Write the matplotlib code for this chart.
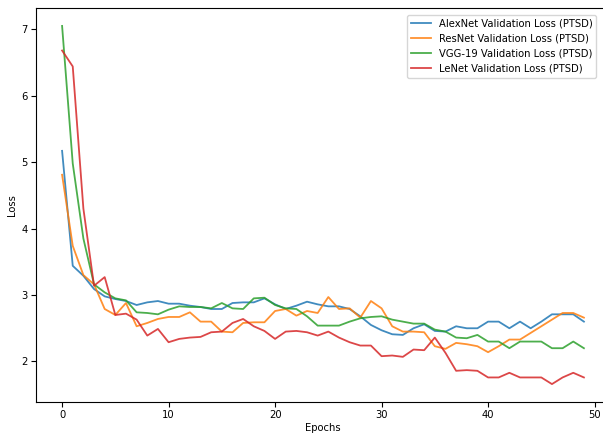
import numpy as np
import matplotlib
matplotlib.use('Agg')
import matplotlib.pyplot as plt

# Значения потерь на валидации
epochs = np.arange(50)

alexnet_loss = [5.17, 3.44, 3.29, 3.09, 2.98, 2.94, 2.91, 2.85, 2.89, 2.91,
                2.87, 2.87, 2.84, 2.82, 2.79, 2.79, 2.88, 2.89, 2.89, 2.95,
                2.86, 2.79, 2.84, 2.90, 2.86, 2.83, 2.83, 2.79, 2.68, 2.55,
                2.47, 2.41, 2.40, 2.50, 2.56, 2.46, 2.45, 2.53, 2.50, 2.50,
                2.60, 2.60, 2.50, 2.60, 2.50, 2.60, 2.71, 2.71, 2.71, 2.60]

resnet_loss = [4.81, 3.74, 3.30, 3.16, 2.79, 2.70, 2.88, 2.53, 2.58, 2.64,
               2.67, 2.67, 2.74, 2.60, 2.60, 2.45, 2.44, 2.58, 2.59, 2.59,
               2.76, 2.79, 2.69, 2.76, 2.73, 2.97, 2.79, 2.80, 2.66, 2.91,
               2.80, 2.53, 2.45, 2.45, 2.44, 2.23, 2.19, 2.28, 2.26, 2.23,
               2.14, 2.23, 2.33, 2.33, 2.43, 2.53, 2.63, 2.73, 2.73, 2.66]

vgg19_loss = [7.05, 4.98, 3.85, 3.16, 3.04, 2.95, 2.92, 2.74, 2.73, 2.71,
              2.78, 2.83, 2.82, 2.82, 2.80, 2.88, 2.80, 2.79, 2.95, 2.96,
              2.85, 2.80, 2.79, 2.68, 2.54, 2.54, 2.54, 2.60, 2.65, 2.67,
              2.68, 2.63, 2.60, 2.57, 2.57, 2.48, 2.45, 2.36, 2.35, 2.40,
              2.30, 2.30, 2.20, 2.30, 2.30, 2.30, 2.20, 2.20, 2.30, 2.20]

lenet_loss = [6.68, 6.44, 4.30, 3.14, 3.27, 2.70, 2.72, 2.63, 2.39, 2.49,
              2.29, 2.34, 2.36, 2.37, 2.44, 2.45, 2.58, 2.64, 2.53, 2.46,
              2.34, 2.45, 2.46, 2.44, 2.39, 2.45, 2.36, 2.29, 2.24, 2.24,
              2.08, 2.09, 2.07, 2.18, 2.17, 2.36, 2.13, 1.86, 1.87, 1.86,
              1.76, 1.76, 1.83, 1.76, 1.76, 1.76, 1.66, 1.76, 1.83, 1.76]

labels = ['AlexNet Validation Loss (PTSD)', 'ResNet Validation Loss (PTSD)',
          'VGG-19 Validation Loss (PTSD)', 'LeNet Validation Loss (PTSD)']

plt.rcParams['font.size'] = 7.2

fig = plt.figure(figsize=(6.03, 4.34), dpi=100)
# оси немного выходят за правый край, как на исходной картинке
ax = fig.add_axes([36 / 603, 32 / 434, 574 / 603, 394 / 434])

for series, label in zip([alexnet_loss, resnet_loss, vgg19_loss, lenet_loss], labels):
    ax.plot(epochs, series, label=label, linewidth=1.3, alpha=0.85)

ax.tick_params(pad=2.5)
ax.set_xlabel('Epochs', labelpad=2)
ax.set_ylabel('Loss', labelpad=3)
ax.legend(loc='upper right', bbox_to_anchor=(0.985, 0.995))

plt.savefig('out.png', dpi=100)
plt.close()
